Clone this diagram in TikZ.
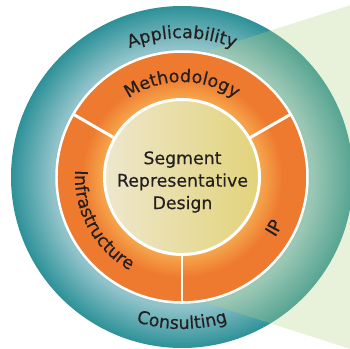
\documentclass[tikz,border=0pt]{standalone}
\usepackage{fontspec}
\setmainfont{DejaVu Sans}[FakeBold=0.35]
\usetikzlibrary{decorations.text}
\definecolor{tealout}{RGB}{45,145,152}
\definecolor{tealin}{RGB}{145,195,202}
\definecolor{orng}{RGB}{238,122,47}
\definecolor{orngl}{RGB}{246,168,78}
\definecolor{creaml}{RGB}{238,231,204}
\definecolor{creamr}{RGB}{226,211,122}
\definecolor{wedgegreen}{RGB}{181,211,133}
\definecolor{txt}{RGB}{35,31,32}
\pgfdeclareradialshading{tealring}{\pgfpoint{0bp}{0bp}}{color(0bp)=(tealin); color(19bp)=(tealin); color(25bp)=(tealout); color(50bp)=(tealout)}
\pgfdeclareradialshading{orangering}{\pgfpoint{0bp}{0bp}}{color(0bp)=(orngl); color(15.5bp)=(orngl); color(20bp)=(orng); color(25bp)=(orng); color(50bp)=(orng)}
\newcommand\curvtext{\fontsize{17.6}{20}\selectfont}
\begin{document}
\begin{tikzpicture}[x=1bp,y=1bp,
  ringtext/.style={decorate, decoration={text along path, text align=center, text color=txt, text={|\curvtext|#1}}},
  divider/.style={white, line width=3}]
\useasboundingbox (-182,-172) rectangle (168,177);
\fill[white] (-182,-172) rectangle (168,177);
\clip (-182,-172) rectangle (168,177);
% outer teal ring
\shade[shading=tealring] (0,0) circle[radius=171];
% green callout wedge
\fill[wedgegreen, fill opacity=0.3] (0,118) -- (200,182) -- (200,-182) -- (0,-118) -- cycle;
% orange ring
\shadedraw[shading=orangering, draw=white, line width=2.5] (0,0) circle[radius=125.5];
\foreach \a in {30,150,270} \draw[divider] (\a:76) -- (\a:126.5);
% inner circle
\shadedraw[left color=creaml, right color=creamr, draw=white, line width=3] (0,0) circle[radius=77.5];
\node[font=\fontsize{17.4}{22.5}\selectfont, text=txt, align=center] (core) at (0.5,-5) {Segment\\Representative\\Design};
% curved labels
\path[ringtext=Applicability] (135:139) arc[start angle=135, end angle=45, radius=139];
\path[ringtext=Methodology] (150:95) arc[start angle=150, end angle=30, radius=95];
\path[ringtext=Infrastructure] (150:107) arc[start angle=150, end angle=267, radius=107];
\path[ringtext=IP] (-60:111) arc[start angle=-60, end angle=2, radius=111];
\path[ringtext=Consulting] (230:152) arc[start angle=230, end angle=310, radius=152];
\end{tikzpicture}
\end{document}
